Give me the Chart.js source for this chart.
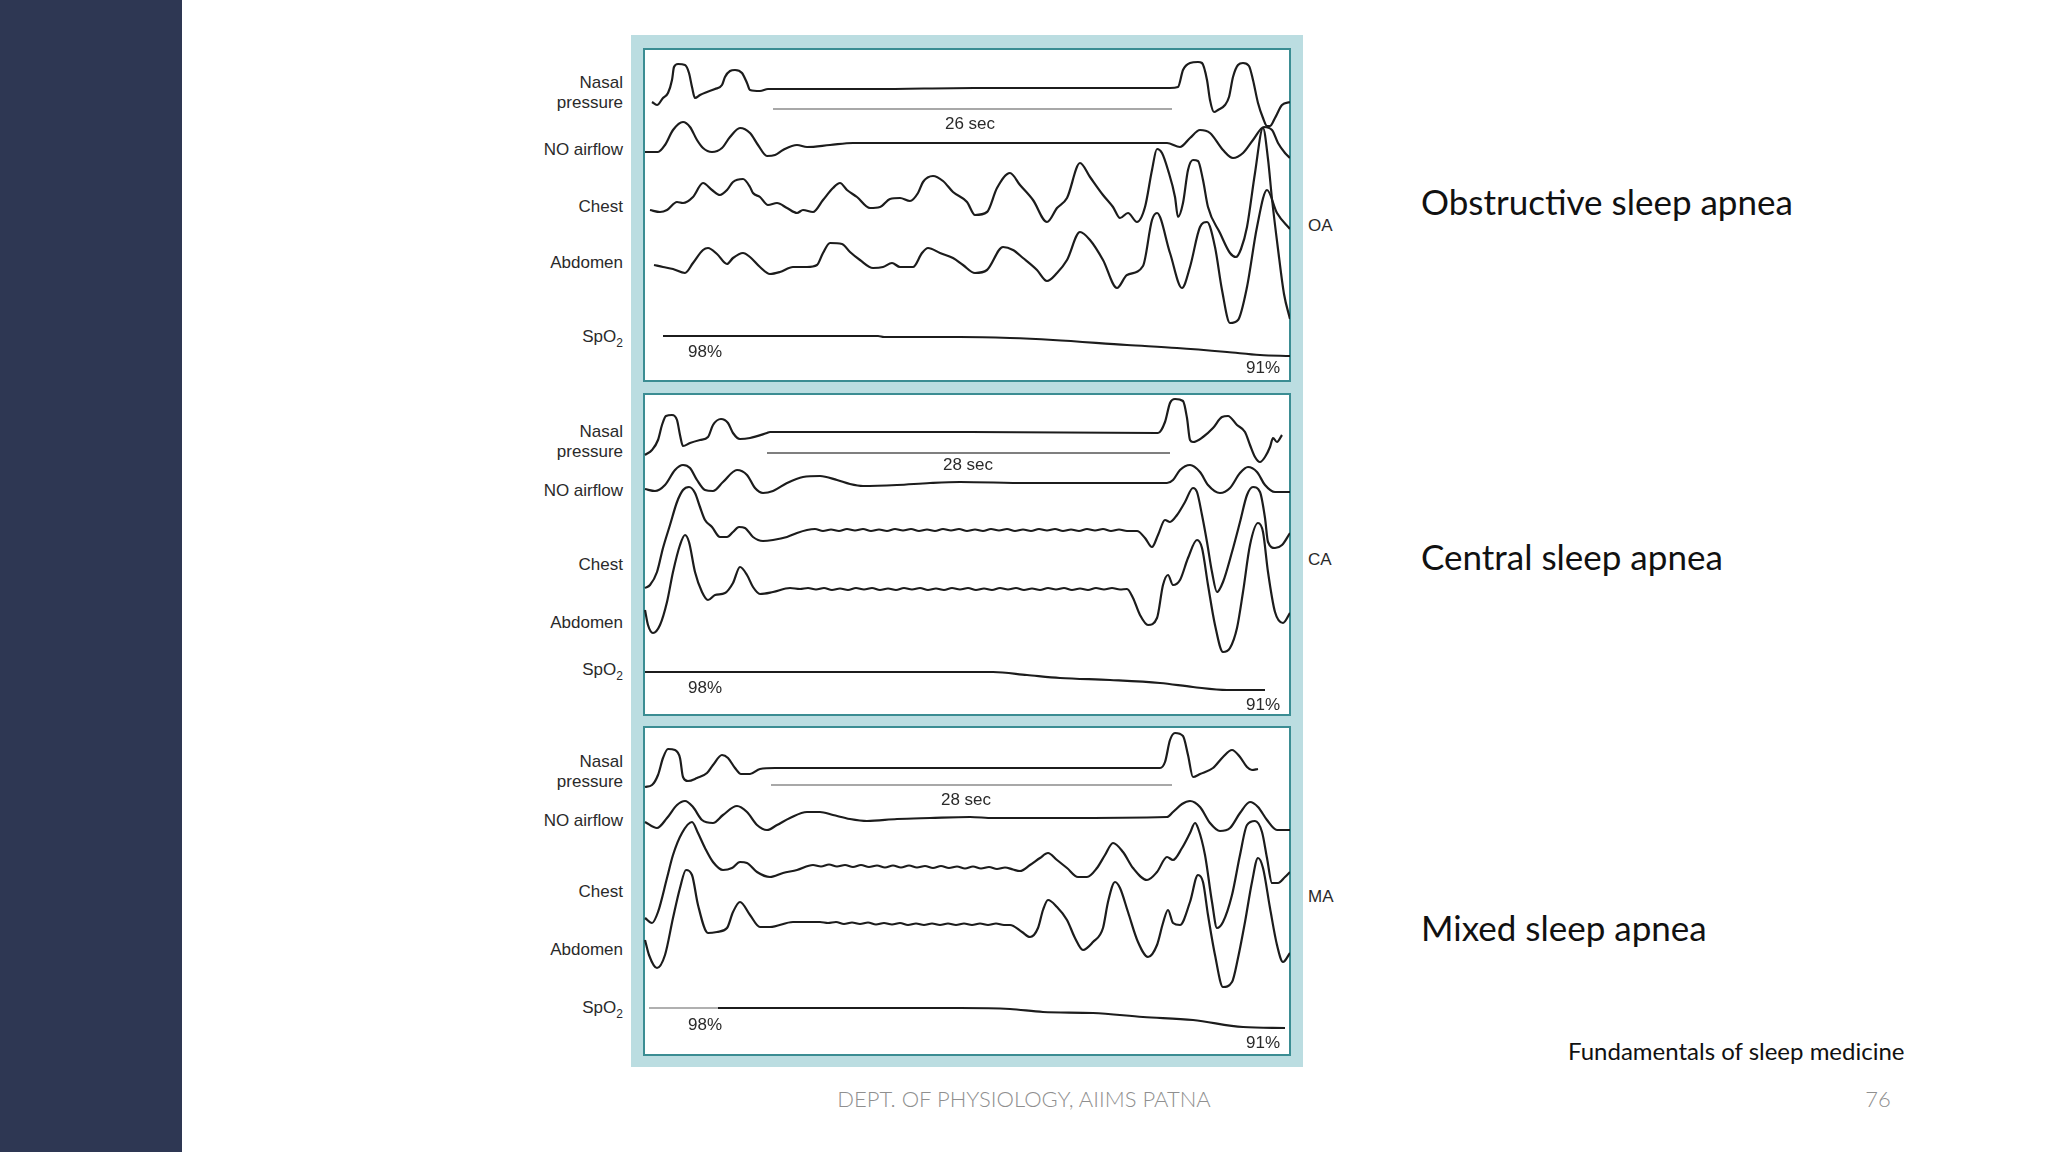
<!DOCTYPE html>
<html>
<head>
<meta charset="utf-8">
<script src="https://cdn.jsdelivr.net/npm/chart.js@4.4.1/dist/chart.umd.min.js"></script>
<style>
  body { margin: 0; width: 2048px; height: 1152px; position: relative; overflow: hidden; background: #fff; font-family: "Liberation Sans", Arial, sans-serif; }
  #sidebar { position: absolute; left: 0; top: 0; width: 182px; height: 1152px; background: #2e3753; }
  #figbox { position: absolute; left: 631px; top: 35px; width: 672px; height: 1032px; background: #bbdde1; }
  .frame { position: absolute; left: 643px; width: 648px; box-sizing: border-box; border: 2px solid #3b8d93; background: #fff; }
  .plot { position: absolute; left: 644px; width: 646px; }
  .lab { position: absolute; right: 1425px; font-size: 17px; color: #2a2a2a; text-align: right; line-height: 20px; transform: translateY(-50%); white-space: nowrap; }
  .note { position: absolute; font-size: 17px; color: #2a2a2a; transform: translate(-50%, -50%); white-space: nowrap; }
  .tag { position: absolute; left: 1308px; font-size: 17px; color: #2a2a2a; transform: translateY(-50%); }
  .head { position: absolute; left: 1421px; font-family: Lato, "Open Sans", sans-serif; font-size: 35px; color: #111; transform: translateY(-50%); white-space: nowrap; line-height: 1; }
  #src { position: absolute; left: 1568px; top: 1050px; font-family: Lato, sans-serif; font-size: 24px; color: #111; transform: translateY(-50%); white-space: nowrap; }
  #foot { position: absolute; left: 1024px; top: 1098px; font-family: Lato, sans-serif; font-weight: 300; font-size: 22px; color: #8f8f8f; transform: translate(-50%, -50%); white-space: nowrap; }
  #page { position: absolute; left: 1878px; top: 1098px; font-family: Lato, sans-serif; font-weight: 300; font-size: 22px; color: #8f8f8f; transform: translate(-50%, -50%); }
</style>
</head>
<body>
<div id="sidebar"></div>
<div id="figbox"></div>

<div class="frame" style="top:48px;height:334px"></div>
<div class="frame" style="top:393px;height:323px"></div>
<div class="frame" style="top:726px;height:330px"></div>

<div class="plot" style="top:49px;height:332px"><canvas id="oa"></canvas></div>
<div class="plot" style="top:394px;height:321px"><canvas id="ca"></canvas></div>
<div class="plot" style="top:727px;height:328px"><canvas id="ma"></canvas></div>

<!-- channel labels -->
<div class="lab" style="top:93px">Nasal<br>pressure</div>
<div class="lab" style="top:150px">NO airflow</div>
<div class="lab" style="top:207px">Chest</div>
<div class="lab" style="top:263px">Abdomen</div>
<div class="lab" style="top:340px">SpO<sub style="font-size:12px">2</sub></div>

<div class="lab" style="top:442px">Nasal<br>pressure</div>
<div class="lab" style="top:491px">NO airflow</div>
<div class="lab" style="top:565px">Chest</div>
<div class="lab" style="top:623px">Abdomen</div>
<div class="lab" style="top:673px">SpO<sub style="font-size:12px">2</sub></div>

<div class="lab" style="top:772px">Nasal<br>pressure</div>
<div class="lab" style="top:821px">NO airflow</div>
<div class="lab" style="top:892px">Chest</div>
<div class="lab" style="top:950px">Abdomen</div>
<div class="lab" style="top:1011px">SpO<sub style="font-size:12px">2</sub></div>

<!-- in-panel notes -->
<div class="note" style="left:970px;top:124px">26 sec</div>
<div class="note" style="left:705px;top:352px">98%</div>
<div class="note" style="left:1263px;top:368px">91%</div>
<div class="note" style="left:968px;top:465px">28 sec</div>
<div class="note" style="left:705px;top:688px">98%</div>
<div class="note" style="left:1263px;top:705px">91%</div>
<div class="note" style="left:966px;top:800px">28 sec</div>
<div class="note" style="left:705px;top:1025px">98%</div>
<div class="note" style="left:1263px;top:1043px">91%</div>

<div class="tag" style="top:226px">OA</div>
<div class="tag" style="top:560px">CA</div>
<div class="tag" style="top:897px">MA</div>

<div class="head" style="top:201px">Obstructive sleep apnea</div>
<div class="head" style="top:556px">Central sleep apnea</div>
<div class="head" style="top:927px">Mixed sleep apnea</div>

<div id="src">Fundamentals of sleep medicine</div>
<div id="foot">DEPT. OF PHYSIOLOGY, AIIMS PATNA</div>
<div id="page">76</div>

<script>
// 各パネル: [x, y] (x = 時間方向, y = 上からの振れ)
// --- Obstructive apnea ---
const oaNasal = [[8,53],[13,56],[19,49],[24,44],[28,31],[30,18],[34,15],[41,16],[45,24],[48,38],[51,49],[56,46],[63,43],[71,40],[78,36],[81,28],[86,22],[91,21],[98,24],[103,34],[106,41],[116,42],[124,40],[230,40],[330,39],[526,39],[534,38],[539,21],[546,14],[554,13],[558,14],[563,31],[566,51],[570,63],[574,61],[581,56],[585,48],[589,28],[594,16],[599,14],[605,17],[609,31],[614,54],[619,69],[623,77],[626,77],[631,69],[638,56],[646,53]];
const oaAirflow = [[1,103],[14,103],[21,96],[29,81],[39,73],[46,78],[53,91],[59,99],[68,103],[78,99],[86,88],[96,79],[106,84],[114,96],[123,107],[131,106],[139,101],[153,96],[163,98],[186,96],[209,94],[326,94],[459,94],[523,94],[536,98],[546,89],[556,81],[566,84],[579,101],[589,109],[599,104],[609,91],[620,78],[628,81],[634,94],[641,104],[646,109]];
const oaChest = [[6,161],[16,163],[23,161],[33,153],[39,154],[49,148],[59,134],[68,141],[76,146],[83,141],[89,133],[99,130],[106,138],[109,144],[116,148],[124,156],[133,154],[143,159],[153,164],[159,161],[169,163],[179,151],[189,139],[196,134],[203,141],[213,148],[226,159],[236,158],[246,150],[256,149],[266,152],[274,144],[279,133],[289,127],[299,132],[309,143],[323,153],[331,166],[343,163],[353,139],[366,124],[376,136],[389,151],[403,173],[413,159],[423,149],[436,114],[446,128],[459,146],[469,158],[476,169],[484,164],[493,173],[501,158],[508,121],[513,100],[518,104],[524,121],[531,148],[534,168],[539,154],[544,121],[549,111],[554,112],[559,131],[564,158],[576,184],[586,204],[592,208],[597,200],[603,178],[611,124],[619,79],[624,110],[628,150],[634,200],[640,245],[646,270]];
const oaAbdomen = [[10,216],[19,218],[29,220],[41,224],[49,214],[59,201],[64,199],[73,205],[83,215],[89,209],[99,204],[106,208],[116,218],[126,225],[136,223],[149,218],[163,218],[173,216],[179,204],[186,194],[198,195],[206,203],[216,211],[229,219],[239,218],[248,214],[256,218],[269,218],[278,204],[284,199],[296,204],[309,209],[319,216],[331,224],[343,221],[359,198],[369,201],[379,209],[393,221],[403,232],[413,224],[423,211],[436,183],[446,191],[459,211],[473,239],[483,226],[499,217],[508,171],[513,164],[526,204],[538,239],[546,218],[556,178],[563,173],[571,198],[578,241],[586,274],[594,271],[603,238],[613,178],[623,141],[633,164],[646,180]];
const oaSpo2 = [[19,287],[234,287],[240,288],[316,288],[366,289],[409,291],[483,296],[533,299],[583,303],[616,306],[646,307]];
const oaBracket = [[129,60],[528,60]];

// --- Central apnea ---
const caNasal = [[1,61],[8,56],[14,46],[18,31],[22,22],[28,21],[33,26],[36,41],[39,52],[46,49],[56,46],[64,43],[69,31],[77,25],[84,29],[89,39],[96,45],[106,44],[123,39],[126,38],[326,38],[514,39],[521,28],[526,9],[531,5],[539,7],[543,24],[546,46],[549,48],[559,43],[569,34],[578,23],[584,22],[593,31],[601,38],[606,51],[611,63],[616,68],[621,63],[626,53],[629,44],[633,48],[638,41]];
const caAirflow = [[1,95],[11,97],[21,91],[31,76],[39,71],[46,74],[53,86],[61,96],[69,97],[79,88],[93,76],[103,81],[111,94],[119,99],[129,97],[143,89],[159,83],[176,82],[193,86],[206,90],[219,92],[253,91],[286,89],[316,88],[383,89],[449,89],[523,89],[529,86],[536,76],[546,71],[556,78],[564,91],[576,99],[586,94],[596,79],[604,73],[613,78],[621,91],[631,98],[646,98]];
const caChest = [[1,194],[6,191],[13,178],[19,154],[26,131],[33,108],[39,96],[45,93],[51,99],[56,113],[61,126],[68,133],[76,143],[83,143],[89,138],[95,133],[101,134],[109,143],[119,147],[129,146],[143,143],[153,139],
  [163,136],[171,135],[179,137],[187,135.5],[195,137],[203,135],[211,136.5],[219,135],[227,137],[235,135.5],[243,137],[251,135],[259,136.5],[267,135],[275,137],[283,135.5],[291,137],[299,135],[307,136.5],[315,135],[323,137],[331,135.5],[339,137],[347,135],[355,136.5],[363,135],[371,137],[379,135.5],[387,137],[395,135],[403,136.5],[411,135],[419,137],[427,135.5],[435,137],[443,135],[451,136.5],[459,135],[467,137],[475,135.5],[483,137],
  [493,137],[501,144],[508,153],[514,141],[521,126],[526,128],[533,121],[541,108],[549,94],[553,98],[558,121],[563,148],[568,178],[573,198],[579,188],[588,158],[596,128],[603,101],[609,93],[616,98],[621,124],[624,148],[631,154],[638,151],[646,139]];
const caAbdomen = [[1,216],[4,231],[9,239],[16,231],[23,208],[29,178],[36,151],[41,141],[45,148],[51,178],[58,198],[64,206],[71,201],[81,199],[89,189],[96,173],[103,181],[109,193],[116,200],[129,198],[146,194],
  [156,195],[164,194],[172,195.5],[180,194],[188,196],[196,194.5],[204,196],[212,194],[220,195.5],[228,194],[236,196],[244,194.5],[252,196],[260,194],[268,195.5],[276,194],[284,196],[292,194.5],[300,196],[308,194],[316,195.5],[324,194],[332,196],[340,194.5],[348,196],[356,194],[364,195.5],[372,194],[380,196],[388,194.5],[396,196],[404,194],[412,195.5],[420,194],[428,196],[436,194.5],[444,196],[452,194],[460,195.5],[468,194],[476,195.5],
  [483,195],[489,204],[496,221],[504,231],[513,224],[519,191],[524,181],[529,191],[536,186],[544,164],[553,146],[558,154],[564,191],[571,231],[579,258],[586,254],[593,234],[599,198],[606,151],[614,129],[619,138],[624,178],[631,218],[639,229],[646,219]];
const caSpo2 = [[1,278],[316,278],[349,278],[383,281],[416,284],[466,286],[516,289],[549,293],[583,296],[621,296]];
const caBracket = [[123,59],[526,59]];

// --- Mixed apnea ---
const maNasal = [[1,60],[8,58],[14,48],[19,31],[24,22],[31,23],[36,31],[39,50],[44,54],[53,51],[63,46],[69,38],[78,28],[84,31],[91,41],[97,47],[106,47],[116,42],[131,41],[330,41],[516,41],[521,35],[526,13],[531,6],[539,9],[544,28],[549,50],[556,47],[569,41],[579,30],[588,23],[596,30],[603,40],[608,43],[614,42]];
const maAirflow = [[1,95],[13,101],[23,91],[33,78],[41,74],[49,80],[58,93],[69,96],[79,88],[93,79],[103,85],[113,98],[123,103],[133,98],[146,91],[163,85],[176,85],[189,88],[206,92],[223,94],[253,92],[286,91],[326,90],[349,91],[416,91],[523,90],[529,85],[538,77],[546,74],[556,80],[566,96],[576,104],[586,101],[596,86],[606,75],[614,80],[623,93],[633,103],[646,103]];
const maChest = [[1,191],[8,196],[14,185],[23,151],[29,128],[38,106],[48,95],[54,106],[61,121],[69,135],[79,143],[88,141],[96,135],[103,136],[113,145],[126,150],[139,146],[153,143],[169,138],
  [177,139.5],[185,137.5],[193,139.5],[201,138],[209,140],[217,138],[225,140],[233,138.5],[241,140.5],[249,138.5],[257,140.5],[265,138.5],[273,140.5],[281,139],[289,141],[297,139],[305,141],[313,139.5],[321,141.5],[329,139.5],[337,141.5],[345,140],[353,142],[361,140.5],[369,142.5],
  [376,144],[386,138],[396,131],[404,126],[413,133],[423,141],[434,150],[443,150],[453,141],[461,128],[469,116],[479,125],[489,141],[503,153],[513,145],[523,130],[529,133],[538,121],[546,106],[551,96],[554,101],[561,128],[568,175],[573,201],[579,195],[588,168],[596,128],[603,98],[611,94],[618,105],[623,131],[628,156],[634,156],[641,150],[646,145]];
const maAbdomen = [[1,213],[5,228],[13,241],[21,228],[29,191],[36,161],[42,143],[48,148],[54,178],[64,206],[73,205],[83,201],[89,185],[96,175],[106,188],[116,200],[126,200],[149,195],[176,195],
  [184,196],[192,195],[200,197],[208,195.5],[216,197],[224,195.5],[232,197.5],[240,196],[248,197.5],[256,196],[264,198],[272,196.5],[280,198],[288,196.5],[296,198],[304,196.5],[312,198],[320,196.5],[328,198],[336,196.5],[344,198],[352,196.5],[360,198],
  [366,198],[378,205],[386,210],[394,201],[399,183],[404,173],[413,180],[423,193],[431,211],[439,223],[449,215],[459,201],[464,175],[471,155],[476,161],[484,185],[494,215],[504,230],[513,218],[519,196],[524,183],[529,196],[536,198],[546,175],[554,148],[559,155],[564,188],[571,228],[579,260],[588,255],[594,231],[601,195],[608,155],[614,131],[619,141],[626,181],[633,218],[639,235],[646,226]];
const maSpo2Start = [[5,281],[74,281]];
const maSpo2 = [[74,281],[316,281],[366,282],[399,285],[449,286],[499,290],[549,293],[599,300],[641,301]];
const maBracket = [[127,58],[528,58]];

const INK = '#1c1c1c';

function trace(pts, color, width) {
    return {
        data: pts.map(p => ({ x: p[0], y: p[1] })),
        borderColor: color || INK,
        borderWidth: width || 2.2,
        pointRadius: 0,
        fill: false,
        cubicInterpolationMode: 'monotone'
    };
}

function drawPanel(id, h, datasets) {
    new Chart(document.getElementById(id), {
        type: 'line',
        data: { datasets: datasets },
        options: {
            responsive: true,
            maintainAspectRatio: false,
            animation: false,
            events: [],
            layout: { padding: 0 },
            scales: {
                x: { type: 'linear', min: 0, max: 646, display: false },
                y: { type: 'linear', min: 0, max: h, reverse: true, display: false }
            },
            plugins: { legend: { display: false }, tooltip: { enabled: false } }
        }
    });
}

drawPanel('oa', 332, [
    trace(oaBracket, '#a8a8a8', 2.2),
    trace(oaNasal), trace(oaAirflow), trace(oaChest), trace(oaAbdomen),
    trace(oaSpo2, INK, 2.2)
]);
drawPanel('ca', 321, [
    trace(caBracket, '#555', 1.3),
    trace(caNasal), trace(caAirflow), trace(caChest), trace(caAbdomen),
    trace(caSpo2, INK, 2.2)
]);
drawPanel('ma', 328, [
    trace(maBracket, '#a8a8a8', 2.2),
    trace(maNasal), trace(maAirflow), trace(maChest), trace(maAbdomen),
    trace(maSpo2Start, '#b0b0b0', 2.2),
    trace(maSpo2, INK, 2.2)
]);
</script>
</body>
</html>
